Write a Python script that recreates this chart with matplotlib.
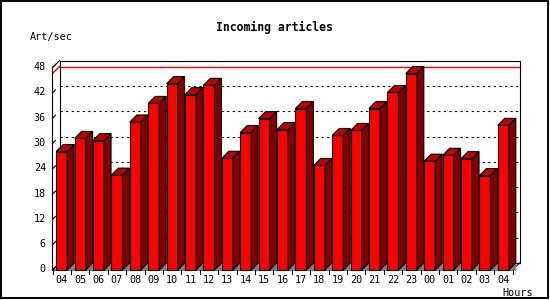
import matplotlib
matplotlib.use('Agg')
import matplotlib.pyplot as plt
from matplotlib.patches import Polygon, Rectangle
from matplotlib.lines import Line2D
from matplotlib.transforms import IdentityTransform

# ---- data ----
hours = ['04', '05', '06', '07', '08', '09', '10', '11', '12', '13', '14', '15',
         '16', '17', '18', '19', '20', '21', '22', '23', '00', '01', '02', '03', '04']
articles = [28.1, 31.2, 30.7, 22.5, 35.1, 39.5, 44.2, 41.6, 43.8, 26.5, 32.6, 35.9,
            33.3, 38.3, 24.8, 31.9, 33.1, 38.3, 42.1, 46.6, 25.8, 27.2, 26.4, 22.4, 34.3]
y_ticks = [0, 6, 12, 18, 24, 30, 36, 42, 48]
title = 'Incoming articles'
y_label = 'Art/sec'
x_label = 'Hours'

# ---- style ----
W, H = 550, 300
DX, DY = 7, 7
FRONT = '#ff0000'
TOP = '#c00000'
SIDE = '#800000'
FLOOR = '#808080'
LW = 0.8
MONO = ['DejaVu Sans Mono']

fig = plt.figure(figsize=(W / 100, H / 100), dpi=100)
ax = fig.add_axes([52.5 / W, 30 / H, 460 / W, 202.4 / H])
ax.set_xlim(-0.5, len(hours) - 0.5)
ax.set_ylim(y_ticks[0], y_ticks[-1])
ax.axis('off')
I = IdentityTransform()
z = [10]


def P(x, v, back=False):
    X, Y = ax.transData.transform((x, v))
    return (X + DX, Y + DY) if back else (X, Y)


def line(pts, color='black', lw=LW, **kw):
    z[0] += 1
    xs = [p[0] for p in pts]
    ys = [p[1] for p in pts]
    fig.add_artist(Line2D(xs, ys, color=color, lw=lw, transform=I, zorder=z[0], **kw))


def poly(pts, face, edge='black'):
    z[0] += 1
    fig.add_artist(Polygon(pts, closed=True, facecolor=face, edgecolor=edge, lw=LW,
                           transform=I, zorder=z[0]))


x0, x1 = -0.5, len(hours) - 0.5
ymin, ymax = y_ticks[0], y_ticks[-1]

# outer frame
z[0] += 1
fig.add_artist(Rectangle((0.5, 2.5), 547, 297, fill=False, edgecolor='black', lw=1.4,
                         transform=I, zorder=z[0]))

# back wall grid
for v in y_ticks[1:-1]:
    line([P(x0, v, True), P(x1, v, True)], dashes=(2, 3))
# max line
vmax = max(articles)
line([P(x0, vmax, True), P(x1, vmax, True)], color='#ff0000', lw=1.0)
line([P(x0, vmax), P(x0, vmax, True)], color='#ff0000', lw=1.0)
# back frame
line([P(x0, ymin, True), P(x0, ymax, True), P(x1, ymax, True), P(x1, ymin, True)])
line([P(x0, ymin, True), P(x1, ymin, True)])
# front axes
line([P(x0, ymin), P(x0, ymax), P(x0, ymax, True)])
line([P(x0, ymin), P(x0, ymin, True)])
line([P(x0, ymin), P(x1, ymin), P(x1, ymin, True)])

# bars
bw = 0.6
for i, v in enumerate(articles):
    l, r = i - bw / 2, i + bw / 2
    poly([P(r, 0), P(r, 0, True), (P(r, 0, True)[0], P(r, 0)[1])], FLOOR, FLOOR)
    poly([P(l, 0), P(r, 0), P(r, v), P(l, v)], FRONT)
    poly([P(l, v), P(r, v), P(r, v, True), P(l, v, True)], TOP)
    poly([P(r, 0), P(r, 0, True), P(r, v, True), P(r, v)], SIDE)

# y ticks and labels
for v in y_ticks:
    X, Y = P(x0, v)
    line([(X, Y), (X + 3, Y + 3)])
    fig.text(X - 6.5, Y + 0.5, str(v), ha='right', va='center', fontsize=7.3,
             family=MONO, transform=I, zorder=50)

# x ticks and labels
for k in range(len(hours) + 1):
    X, Y = P(k - 0.5, 0)
    line([(X, Y), (X, Y - 4)])
for i, h in enumerate(hours):
    X, Y = P(i, 0)
    fig.text(X, Y - 10, h, ha='center', va='center', fontsize=7.3, family=MONO,
             transform=I, zorder=50)

fig.text(533, H - 292.5, x_label, ha='right', va='center', fontsize=7.3, family=MONO,
         transform=I, zorder=50)
fig.text(30, H - 37, y_label, ha='left', va='center', fontsize=7.3, family=MONO,
         transform=I, zorder=50)
fig.text(274, H - 27, title, ha='center', va='center', fontsize=8.3, family=MONO,
         fontweight='bold', transform=I, zorder=50)

fig.savefig('out.png', dpi=100, facecolor='white')
